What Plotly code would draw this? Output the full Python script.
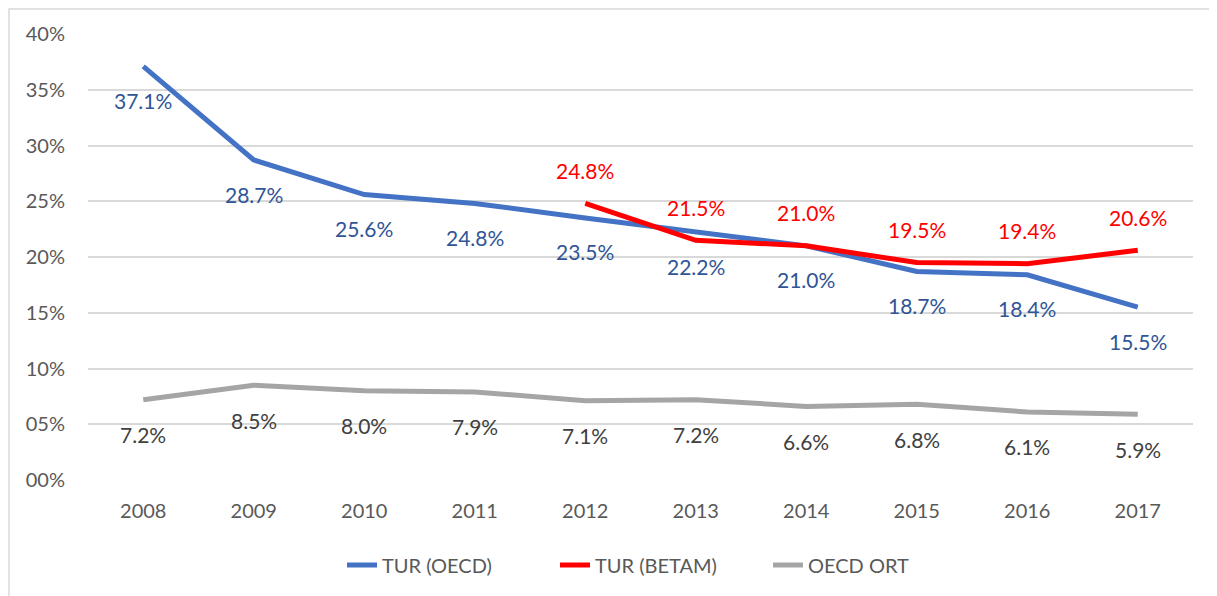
import plotly.graph_objects as go

years = ["2008", "2009", "2010", "2011", "2012", "2013", "2014", "2015", "2016", "2017"]
tur_oecd = [37.1, 28.7, 25.6, 24.8, 23.5, 22.2, 21.0, 18.7, 18.4, 15.5]
tur_betam = [None, None, None, None, 24.8, 21.5, 21.0, 19.5, 19.4, 20.6]
oecd_ort = [7.2, 8.5, 8.0, 7.9, 7.1, 7.2, 6.6, 6.8, 6.1, 5.9]
y_ticks = [0, 5, 10, 15, 20, 25, 30, 35, 40]
y_tick_labels = ["00%", "05%", "10%", "15%", "20%", "25%", "30%", "35%", "40%"]

FONT = "Lato"
BLUE = "#4472C4"
RED = "#FF0000"
GRAY = "#A5A5A5"

fig = go.Figure()
fig.add_trace(go.Scatter(x=years, y=tur_oecd, mode="lines", name="TUR (OECD)",
                         line=dict(color=BLUE, width=5)))
fig.add_trace(go.Scatter(x=years, y=tur_betam, mode="lines", name="TUR (BETAM)",
                         line=dict(color=RED, width=5)))
fig.add_trace(go.Scatter(x=years, y=oecd_ort, mode="lines", name="OECD ORT",
                         line=dict(color=GRAY, width=5)))

annotations = []
for series, color, shift in [(tur_oecd, "#2F5597", -34), (tur_betam, RED, 33), (oecd_ort, "#404040", -35)]:
    for i, v in enumerate(series):
        if v is None:
            continue
        annotations.append(dict(x=i, y=v, xref="x", yref="y", text=f"{v:.1f}%",
                                showarrow=False, yshift=shift,
                                font=dict(family=FONT, size=21, color=color)))

W, H = 1209, 588
L, T = 80, 26
PW, PH = 1105, 446

fig.update_layout(
    width=W, height=H,
    margin=dict(l=L, r=W - L - PW, t=T, b=H - T - PH),
    paper_bgcolor="white", plot_bgcolor="white",
    font=dict(family=FONT, size=20, color="#595959"),
    showlegend=True,
    legend=dict(orientation="h", x=334 / W, xref="container", xanchor="left",
                y=1 - (557 / H), yref="container", yanchor="middle",
                font=dict(family=FONT, size=20, color="#595959"),
                entrywidth=168, entrywidthmode="pixels",
                itemwidth=30, tracegroupgap=0),
    annotations=annotations,
    shapes=[dict(type="rect", xref="paper", yref="paper",
                 x0=(1 - L) / PW, x1=(W + 10 - L) / PW,
                 y0=-0.4, y1=1 + (T - 1) / PH,
                 line=dict(color="#D9D9D9", width=1.5), layer="below")],
)
fig.update_xaxes(type="category", range=[-0.5, len(years) - 0.5],
                 showgrid=False, showline=False, ticks="", zeroline=False,
                 tickfont=dict(family=FONT, size=20, color="#595959"),
                 ticklabelstandoff=17)
fig.update_yaxes(range=[0, 40], tickvals=y_ticks, ticktext=y_tick_labels,
                 showgrid=True, gridcolor="#D9D9D9", gridwidth=1.5,
                 zeroline=False, showline=False, ticks="",
                 tickfont=dict(family=FONT, size=20, color="#595959"),
                 ticklabelstandoff=22)

fig.write_html("out.html")
